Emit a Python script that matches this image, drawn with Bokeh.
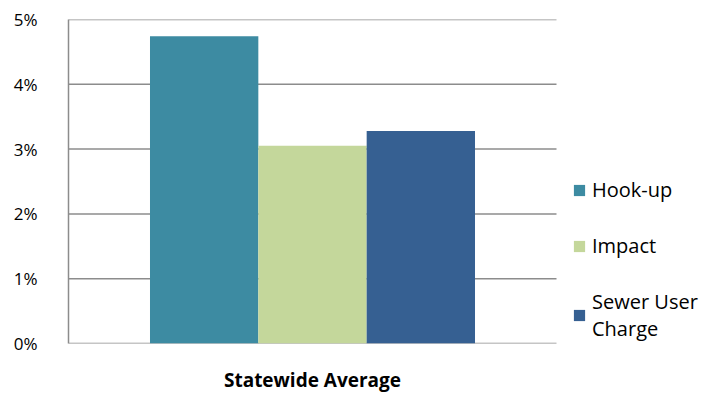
from bokeh.plotting import figure
from bokeh.models import ColumnDataSource, NumeralTickFormatter, Range1d, Legend, LegendItem, FixedTicker
from bokeh.transform import dodge
from bokeh.embed import file_html
from bokeh.resources import INLINE

categories = ["Statewide Average"]
series_names = ["Hook-up", "Impact", "Sewer User\nCharge"]
hookup = [0.0474]
impact = [0.0305]
sewer = [0.0328]
colors = ["#3D8BA2", "#C4D79B", "#366092"]
y_ticks = [0, 0.01, 0.02, 0.03, 0.04, 0.05]

cat_x = [i + 0.5 for i in range(len(categories))]
source = ColumnDataSource(dict(x=cat_x, cat=categories, hookup=hookup, impact=impact, sewer=sewer))
grid = ColumnDataSource(dict(y=y_ticks, x0=[0] * len(y_ticks), x1=[len(categories)] * len(y_ticks)))

# plot area 68..556 px holds the category; the frame continues to the right edge for the legend
x_end = len(categories) * (719 - 68) / (556 - 68)
p = figure(width=719, height=395, x_range=Range1d(0, x_end), y_range=Range1d(0, 0.05),
           output_backend="svg", toolbar_location=None,
           min_border_left=68, min_border_right=0, min_border_top=19, min_border_bottom=51)
p.outline_line_color = None
p.xgrid.grid_line_color = None
p.ygrid.grid_line_color = None

p.segment(x0="x0", x1="x1", y0="y", y1="y", source=grid, line_color="#8c8c8c", line_width=1.5)

bw = 0.222
r1 = p.vbar(x=dodge("x", -bw), top="hookup", width=bw, source=source,
            color=colors[0], line_color=None)
r2 = p.vbar(x=dodge("x", 0.0), top="impact", width=bw, source=source,
            color=colors[1], line_color=None)
r3 = p.vbar(x=dodge("x", bw), top="sewer", width=bw, source=source,
            color=colors[2], line_color=None)

p.yaxis.ticker = FixedTicker(ticks=y_ticks)
p.yaxis.formatter = NumeralTickFormatter(format="0%")
p.yaxis.major_tick_line_color = None
p.yaxis.minor_tick_line_color = None
p.yaxis.axis_line_color = "#8c8c8c"
p.yaxis.axis_line_width = 1.5
p.yaxis.major_label_text_font = "Open Sans"
p.yaxis.major_label_text_font_size = "17px"
p.yaxis.major_label_text_color = "#000000"
p.yaxis.major_label_standoff = 25

p.xaxis.ticker = FixedTicker(ticks=cat_x)
p.xaxis.major_label_overrides = {x: c for x, c in zip(cat_x, categories)}
p.xaxis.major_tick_line_color = None
p.xaxis.minor_tick_line_color = None
p.xaxis.axis_line_color = None
p.xaxis.axis_label_standoff = 0
p.xaxis.major_label_text_font = "Open Sans"
p.xaxis.major_label_text_font_style = "bold"
p.xaxis.major_label_text_font_size = "19px"
p.xaxis.major_label_text_color = "#000000"
p.xaxis.major_label_standoff = 17

legend = Legend(items=[LegendItem(label=series_names[0], renderers=[r1]),
                       LegendItem(label=series_names[1], renderers=[r2]),
                       LegendItem(label=series_names[2], renderers=[r3])],
                location=(504, 1), border_line_color=None, background_fill_alpha=0,
                padding=0, margin=0, spacing=29, glyph_width=14, glyph_height=14,
                label_standoff=6, label_text_font="Open Sans", label_text_font_size="20px",
                label_text_color="#000000", label_height=20)
p.add_layout(legend, "center")

open("out.html", "w").write(file_html(p, INLINE))
